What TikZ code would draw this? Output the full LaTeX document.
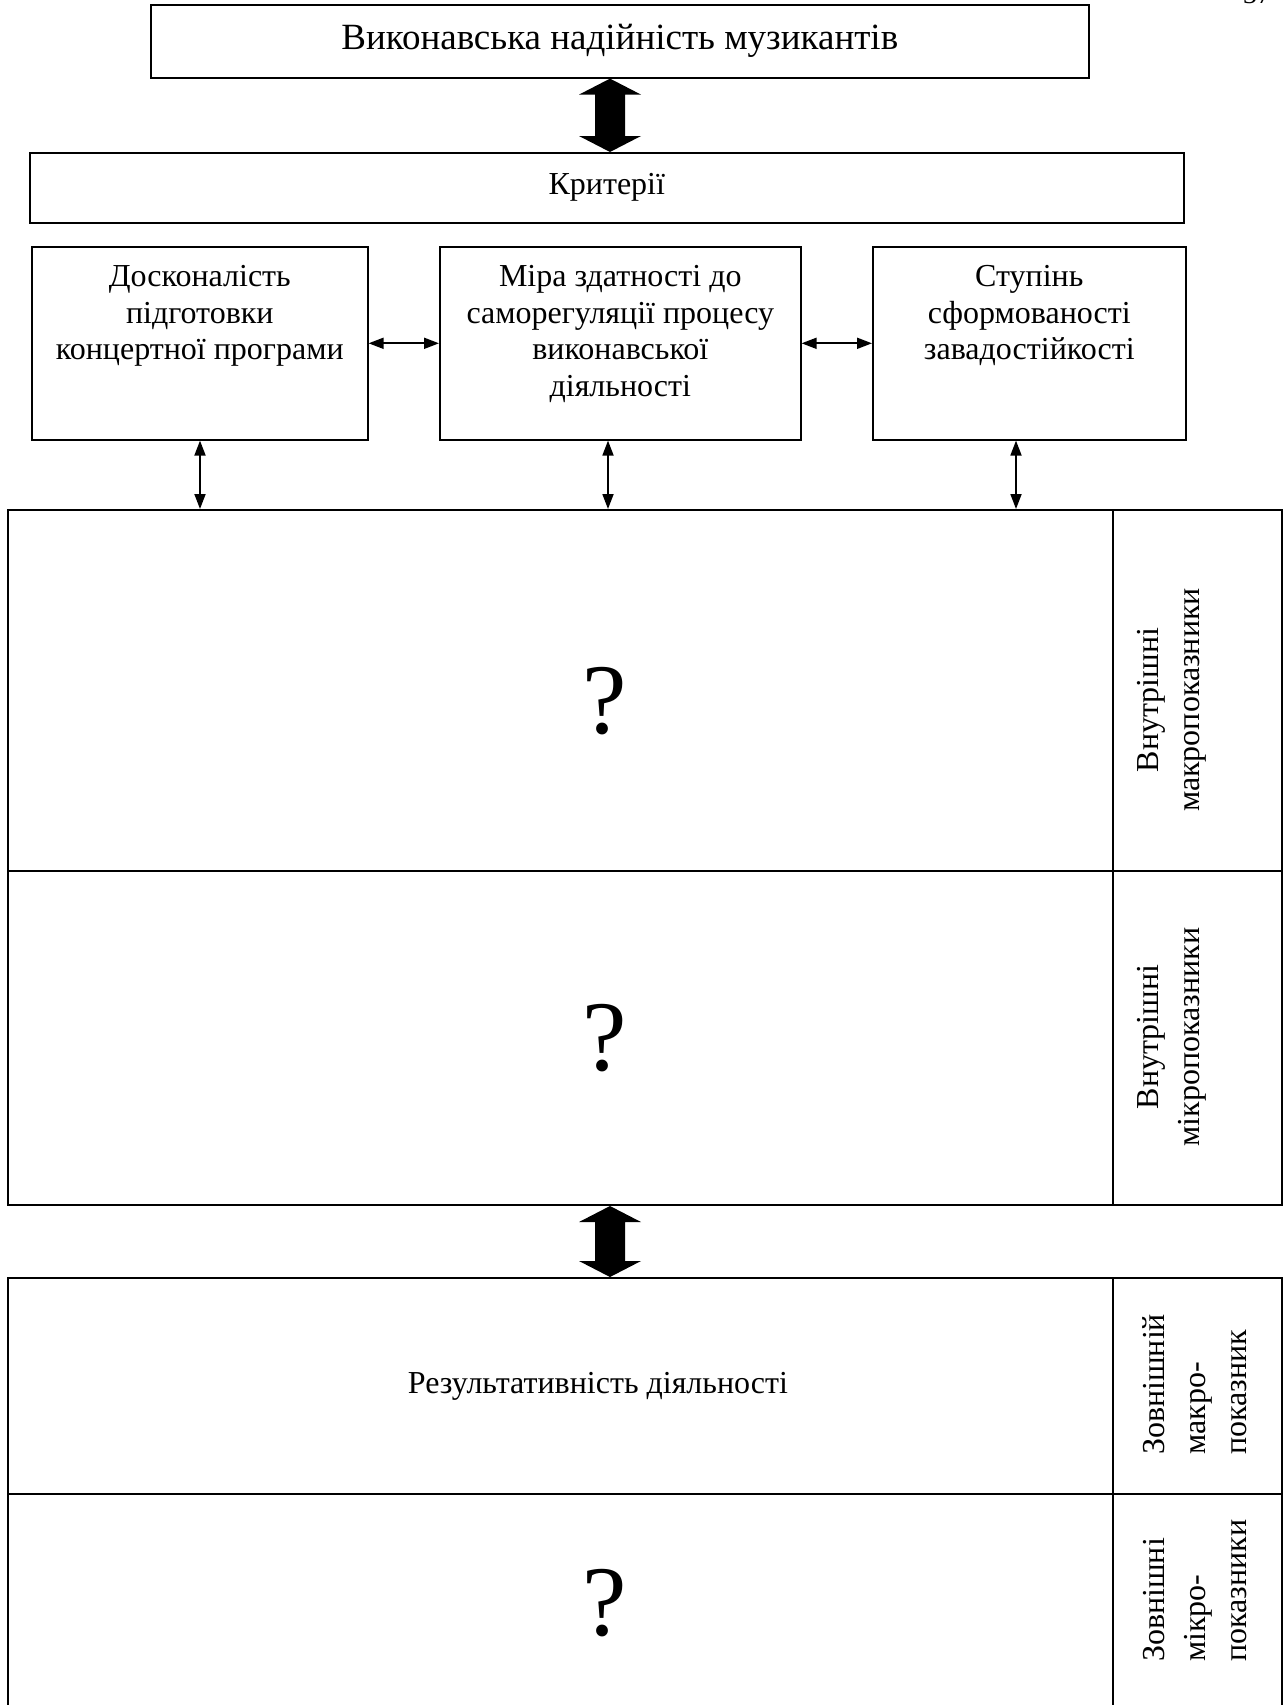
\documentclass[tikz,border=0pt]{standalone}
\usepackage{fontspec}
\setmainfont{Liberation Serif}
\usetikzlibrary{arrows.meta,calc}

% broad filled two-headed arrow between two points on one vertical
\newcommand{\twowayarrow}[2]{%
  \fill let \p1=(#1), \p2=(#2) in
    (\x1,\y1) -- (\x1+31pt,\y1-16pt) -- (\x1+15pt,\y1-16pt) --
    (\x1+15pt,\y2+16pt) -- (\x1+31pt,\y2+16pt) -- (\x1,\y2) --
    (\x1-31pt,\y2+16pt) -- (\x1-15pt,\y2+16pt) --
    (\x1-15pt,\y1-16pt) -- (\x1-31pt,\y1-16pt) -- cycle;}

\begin{document}
\begin{tikzpicture}[x=1pt,y=-1pt,
  box/.style={draw, line width=1.6pt, inner sep=0pt, anchor=north west},
  cell/.style={draw, line width=2pt, inner sep=0pt, anchor=north west},
  txt/.style={font=\fontsize{32}{36.5}\selectfont},
  link/.style={line width=1.8pt,
    {Triangle[length=15pt,width=11pt]}-{Triangle[length=15pt,width=11pt]}},
  qmark/.style={font=\fontsize{100}{100}\selectfont, inner sep=0pt},
  side/.style={rotate=90, font=\fontsize{32}{41}\selectfont, inner sep=0pt}
]
\useasboundingbox (0,0) rectangle (1286,1705);

% page number, mostly above the page edge
\node[font=\fontsize{28}{30}\selectfont, anchor=base, inner sep=0pt] (page) at (1257,3) {37};

% headline and criteria
\node[box, minimum width=938pt, minimum height=73pt,
      font=\fontsize{37}{42}\selectfont] (title) at (150,4)
  {Виконавська надійність музикантів};
\node[box, txt, minimum width=1154pt, minimum height=70pt] (crit) at (29,152) {Критерії};

% three criteria boxes, text set from the top
\node[box, txt] (b1) at (31,246)
  {\parbox[c][193pt][t]{336pt}{\centering\vspace*{19pt}Досконалість\\підготовки\\концертної програми}};
\node[box, txt] (b2) at (439,246)
  {\parbox[c][193pt][t]{361pt}{\centering\vspace*{19pt}Міра здатності до\\саморегуляції процесу\\виконавської\\діяльності}};
\node[box, txt] (b3) at (872,246)
  {\parbox[c][193pt][t]{313pt}{\centering\vspace*{19pt}Ступінь\\сформованості\\завадостійкості}};

% inner indicators table
\node[cell, minimum width=1105pt, minimum height=361pt] (c1) at (7,509) {};
\node[cell, minimum width=169pt, minimum height=361pt] (s1) at (1112,509) {};
\node[cell, minimum width=1105pt, minimum height=334pt] (c2) at (7,870) {};
\node[cell, minimum width=169pt, minimum height=334pt] (s2) at (1112,870) {};

% outer indicators table
\node[cell, minimum width=1105pt, minimum height=216pt] (c3) at (7,1277) {};
\node[cell, minimum width=169pt, minimum height=216pt] (s3) at (1112,1277) {};
\node[cell, minimum width=1105pt, minimum height=240pt] (c4) at (7,1493) {};
\node[cell, minimum width=169pt, minimum height=240pt] (s4) at (1112,1493) {};

% cell contents
\node[qmark] (q1) at (605,701) {?};
\node[qmark] (q2) at (605,1038) {?};
\node[qmark] (q3) at (605,1603) {?};
\node[txt, inner sep=0pt] (res) at (598,1386) {Результативність діяльності};

\node[side, align=center] (l1) at (1172,700) {Внутрішні\\макропоказники};
\node[side, align=center] (l2) at (1172,1037) {Внутрішні\\мікропоказники};
\node[side, align=left, anchor=west] (l3) at (1195,1455) {Зовнішній\\макро-\\показник};
\node[side, align=left, anchor=west] (l4) at (1195,1662) {Зовнішні\\мікро-\\показники};

% connectors
\coordinate (axm) at (610,0);
\coordinate (ax1) at (200,0);
\coordinate (ax2) at (608,0);
\coordinate (ax3) at (1016,0);

\twowayarrow{title.south -| axm}{crit.north -| axm}
\twowayarrow{c2.south -| axm}{c3.north -| axm}

\draw[link] (b1.east) -- (b2.west);
\draw[link] (b2.east) -- (b3.west);
\draw[link] (b1.south -| ax1) -- (c1.north -| ax1);
\draw[link] (b2.south -| ax2) -- (c1.north -| ax2);
\draw[link] (b3.south -| ax3) -- (c1.north -| ax3);
\end{tikzpicture}
\end{document}
